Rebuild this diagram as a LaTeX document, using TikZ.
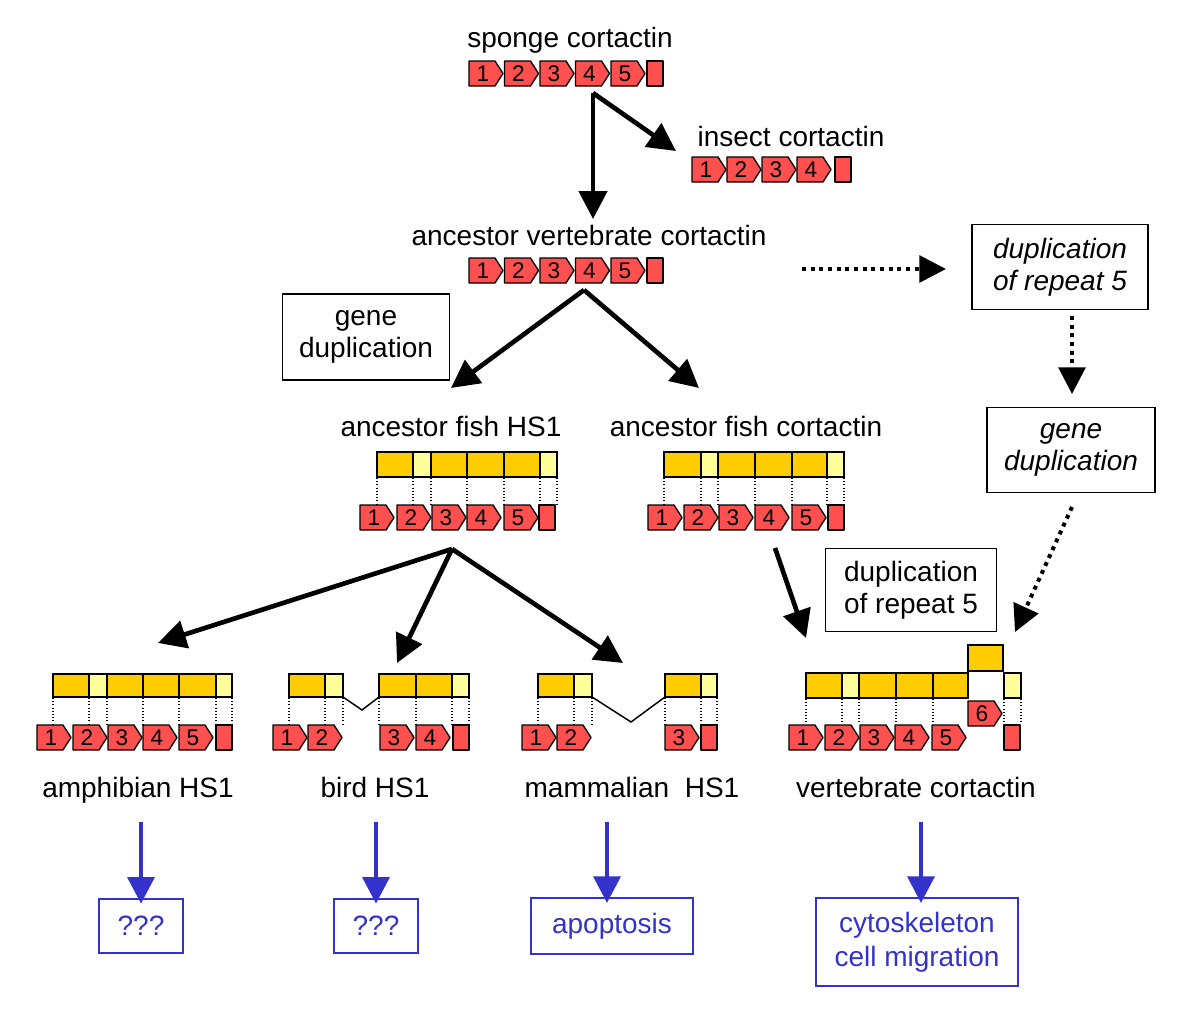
\documentclass[tikz,border=0pt]{standalone}
\usepackage{fontspec}
\setmainfont{Liberation Sans}
\usetikzlibrary{arrows.meta}
\definecolor{repred}{HTML}{FF5050}
\definecolor{domgold}{HTML}{FFCC00}
\definecolor{domlight}{HTML}{FFFF99}
\definecolor{fnblue}{HTML}{3333CC}
% repeat arrow: name, left x, top y, number
\newcommand{\rpt}[4]{%
  \draw[rep] (#2,#3) -- ++(26,0) -- ++(8,12.5) -- ++(-8,12.5) -- ++(-26,0) -- cycle;
  \node[replab] (#1) at (#2+14,#3+12.5) {#4};}
% end square: name, left x, top y
\newcommand{\rend}[3]{%
  \draw[rep] (#2,#3) rectangle ++(16,25);
  \coordinate (#1) at (#2+8,#3+12.5);}
\begin{document}
\begin{tikzpicture}[x=0.75pt,y=0.75pt,yscale=-1,xscale=1,
    rep/.style={draw, fill=repred, line width=1pt, line join=round},
    replab/.style={inner sep=0pt, font=\fontsize{17}{18}\selectfont},
    dk/.style={draw, fill=domgold, line width=1.1pt},
    lt/.style={draw, fill=domlight, line width=1.1pt},
    guide/.style={line width=0.8pt, dash pattern=on 0.8pt off 1.6pt},
    link/.style={line width=1.1pt},
    lab/.style={inner sep=0pt, anchor=base, font=\fontsize{21}{24}\selectfont},
    note/.style={draw, line width=1.1pt, align=center, inner sep=0pt, font=\fontsize{21}{24}\selectfont},
    fnbox/.style={draw=fnblue, text=fnblue, line width=1.5pt, align=center, inner sep=0pt, font=\fontsize{21}{25.5}\selectfont},
    blk/.style={line width=3.5pt, -{Triangle[length=21pt,width=21pt]}},
    dots/.style={line width=3pt, dash pattern=on 3pt off 3.5pt, -{Triangle[length=20pt,width=20pt]}},
    blu/.style={draw=fnblue, line width=3.5pt, -{Triangle[length=20pt,width=20pt,fill=fnblue]}}]
\useasboundingbox (0,0) rectangle (1200,1014);

% sponge cortactin
\node[lab] (sponge) at (570,47) {sponge cortactin};
\foreach \x/\n in {469/1,504.5/2,540/3,575.5/4,611/5} \rpt{sp\n}{\x}{61}{\n};
\rend{spE}{647}{61}

% insect cortactin
\node[lab] (insect) at (791,146) {insect cortactin};
\foreach \x/\n in {692/1,727/2,762/3,797/4} \rpt{in\n}{\x}{157}{\n};
\rend{inE}{835}{157}

% ancestor vertebrate cortactin
\node[lab] (ancvert) at (589,245) {ancestor vertebrate cortactin};
\foreach \x/\n in {469/1,504.5/2,540/3,575.5/4,611/5} \rpt{av\n}{\x}{258}{\n};
\rend{avE}{647}{258}

% ancestor fish HS1
\node[lab] (fishhs) at (451,436) {ancestor fish HS1};
\foreach \a/\b/\s in {377/413/dk,413/431/lt,431/467/dk,467/504/dk,504/540/dk,540/557/lt}
  \draw[\s] (\a,452) rectangle (\b,477);
\foreach \x in {377,413,431,467,504,540,557} \draw[guide] (\x,478) -- (\x,504);
\foreach \x/\n in {360/1,397/2,432/3,467/4,504/5} \rpt{fh\n}{\x}{505}{\n};
\rend{fhE}{539}{505}

% ancestor fish cortactin
\node[lab] (fishct) at (746,436) {ancestor fish cortactin};
\foreach \a/\b/\s in {664/701/dk,701/718/lt,718/755/dk,755/792/dk,792/827/dk,827/844/lt}
  \draw[\s] (\a,452) rectangle (\b,477);
\foreach \x in {664,701,718,755,792,827,844} \draw[guide] (\x,478) -- (\x,504);
\foreach \x/\n in {648/1,684/2,719/3,755/4,792/5} \rpt{fc\n}{\x}{505}{\n};
\rend{fcE}{828}{505}

% amphibian HS1
\foreach \a/\b/\s in {53/89/dk,89/107/lt,107/143/dk,143/179/dk,179/216/dk,216/232/lt}
  \draw[\s] (\a,674) rectangle (\b,697);
\foreach \x in {53,89,107,143,179,216,232} \draw[guide] (\x,698) -- (\x,724);
\foreach \x/\n in {37/1,73/2,108/3,143/4,179/5} \rpt{am\n}{\x}{725}{\n};
\rend{amE}{216}{725}
\node[lab] (amph) at (138,797) {amphibian HS1};

% bird HS1
\foreach \a/\b/\s in {289/325/dk,325/343/lt,379/416/dk,416/452/dk,452/469/lt}
  \draw[\s] (\a,674) rectangle (\b,697);
\draw[link] (343,697) -- (362,710) -- (379,697);
\foreach \x in {289,325,343,379,416,452,469} \draw[guide] (\x,698) -- (\x,724);
\foreach \x/\n in {273/1,308/2,380/3,416/4} \rpt{bd\n}{\x}{725}{\n};
\rend{bdE}{453}{725}
\node[lab] (bird) at (375,797) {bird HS1};

% mammalian HS1
\foreach \a/\b/\s in {538/574/dk,574/592/lt,665/701/dk,701/717/lt}
  \draw[\s] (\a,674) rectangle (\b,697);
\draw[link] (592,697) -- (631,722) -- (665,697);
\foreach \x in {538,574,592,665,701,717} \draw[guide] (\x,698) -- (\x,724);
\foreach \x/\n in {522/1,557/2,665/3} \rpt{mm\n}{\x}{725}{\n};
\rend{mmE}{701}{725}
\node[lab] (mamm) at (632,797) {mammalian\ \ HS1};

% vertebrate cortactin
\foreach \a/\b/\s in {806/842/dk,842/859/lt,859/896/dk,896/933/dk,933/968/dk}
  \draw[\s] (\a,673) rectangle (\b,698);
\draw[dk] (968,645) rectangle (1003,671);
\draw[lt] (1004,673) rectangle (1021,698);
\foreach \x in {806,842,859,896,933,1004,1021} \draw[guide] (\x,699) -- (\x,724);
\foreach \x/\n in {789/1,825/2,860/3,895/4,932/5} \rpt{vc\n}{\x}{725}{\n};
\rpt{vc6}{968}{701}{6}
\rend{vcE}{1004}{725}
\node[lab] (vert) at (916,797) {vertebrate cortactin};

% note boxes
\node[note, minimum width=125pt, minimum height=64.5pt] (gdup) at (366,337) {gene\\duplication};
\node[note, minimum width=132pt, minimum height=64pt, font=\fontsize{21}{24}\selectfont\itshape] (rdupA) at (1060,267) {duplication\\of repeat 5};
\node[note, minimum width=126pt, minimum height=64pt, font=\fontsize{21}{24}\selectfont\itshape] (gdupB) at (1071,450) {gene\\duplication};
\node[note, minimum width=128pt, minimum height=62pt] (rdupB) at (911,590) {duplication\\of repeat 5};

% function boxes
\node[fnbox, minimum width=63pt, minimum height=41pt] (fnAm) at (141,926) {???};
\node[fnbox, minimum width=63pt, minimum height=41pt] (fnBd) at (376,926) {???};
\node[fnbox, minimum width=121.5pt, minimum height=42pt] (fnMm) at (612,926) {apoptosis};
\node[fnbox, minimum width=151.5pt, minimum height=66pt] (fnVc) at (917,942) {cytoskeleton\\cell migration};

% arrow ends
\coordinate (spFork) at (593,93);
\coordinate (avTip) at (593,219);
\coordinate (inTip) at (676,151);
\coordinate (avFork) at (584,290);
\coordinate (fhTip) at (451,388);
\coordinate (fcTip) at (699,388);
\coordinate (fhFork) at (452,549);
\coordinate (amTip) at (158,643);
\coordinate (bdTip) at (397,663);
\coordinate (mmTip) at (623,663);
\coordinate (fcOut) at (775,548);
\coordinate (vcTip) at (806,638);
\coordinate (avOut) at (802,269);
\coordinate (rdTip) at (946,269);
\coordinate (rdOut) at (1072,316);
\coordinate (gdTip) at (1072,394);
\coordinate (gdOut) at (1072,507);
\coordinate (vcTipB) at (1015,632);

\draw[blk] (spFork) -- (avTip);
\draw[blk] (spFork) -- (inTip);
\draw[blk] (avFork) -- (fhTip);
\draw[blk] (avFork) -- (fcTip);
\draw[blk] (fhFork) -- (amTip);
\draw[blk] (fhFork) -- (bdTip);
\draw[blk] (fhFork) -- (mmTip);
\draw[blk] (fcOut) -- (vcTip);
\draw[dots] (avOut) -- (rdTip);
\draw[dots] (rdOut) -- (gdTip);
\draw[dots] (gdOut) -- (vcTipB);

% function arrows
\draw[blu] (fnAm.north |- 0,822) -- ([yshift=4.5pt]fnAm.north);
\draw[blu] (fnBd.north |- 0,822) -- ([yshift=4.5pt]fnBd.north);
\draw[blu] (607,822) -- ([yshift=4.5pt]fnMm.north -| 607,0);
\draw[blu] (921,822) -- ([yshift=4.5pt]fnVc.north -| 921,0);
\end{tikzpicture}
\end{document}
